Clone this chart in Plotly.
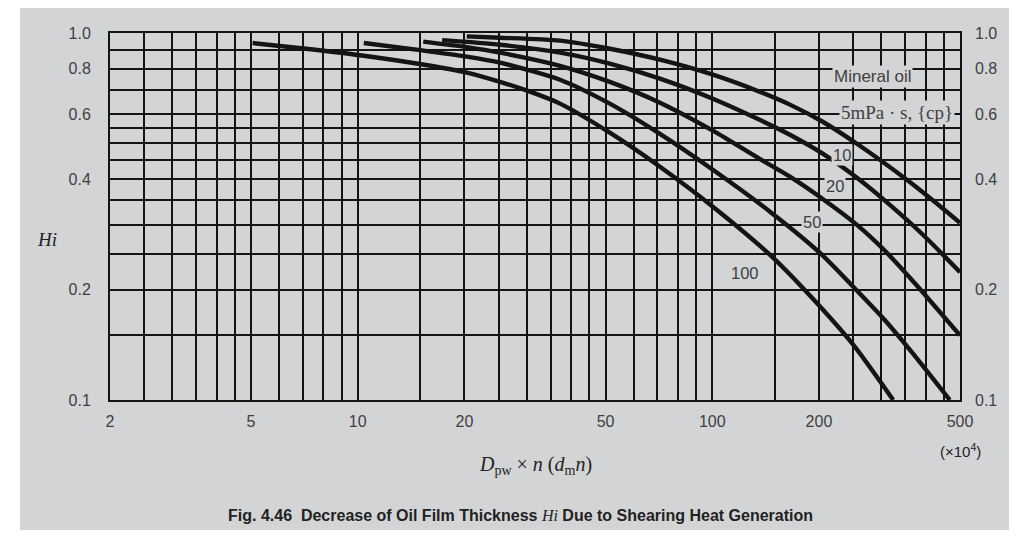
import math
import plotly.graph_objects as go

# ---- data ----
viscosities = ["5", "10", "20", "50", "100"]

dmn_5 = [20.3, 25.2, 37.2, 51.4, 71.2, 100.4, 136, 165.6, 205, 256, 354, 448, 500]
hi_5 = [0.979, 0.971, 0.953, 0.906, 0.846, 0.770, 0.692, 0.638, 0.573, 0.499, 0.398, 0.332, 0.304]

dmn_10 = [17.3, 25.2, 37.2, 51.4, 71.2, 100.4, 136, 165.6, 205, 256, 317, 393, 500]
hi_10 = [0.956, 0.929, 0.884, 0.825, 0.751, 0.662, 0.580, 0.528, 0.469, 0.403, 0.340, 0.282, 0.223]

dmn_20 = [15.3, 20.3, 25.2, 37.2, 51.4, 71.2, 100.4, 136, 165.6, 205, 256, 307, 368, 500]
hi_20 = [0.947, 0.915, 0.884, 0.814, 0.736, 0.646, 0.542, 0.454, 0.406, 0.353, 0.300, 0.255, 0.211, 0.150]

dmn_50 = [10.4, 15.0, 20.3, 25.2, 37.2, 51.4, 71.2, 100.4, 145.5, 201, 253, 307, 368, 468]
hi_50 = [0.939, 0.898, 0.862, 0.830, 0.746, 0.642, 0.531, 0.424, 0.326, 0.252, 0.201, 0.165, 0.134, 0.100]

dmn_100 = [5.05, 7.14, 10.15, 15.1, 20.3, 25.2, 30.6, 37.2, 51.4, 71.2, 102.9, 148.6, 197, 252, 324]
hi_100 = [0.939, 0.906, 0.870, 0.822, 0.780, 0.736, 0.692, 0.642, 0.535, 0.432, 0.330, 0.244, 0.184, 0.140, 0.100]

x_grid = [2, 2.5, 3, 3.5, 4, 4.5, 5, 6, 7, 8, 9, 10, 15, 20, 25, 30, 35, 40, 45, 50,
          60, 70, 80, 90, 100, 150, 200, 250, 300, 350, 400, 450, 500]
x_labels = {2: "2", 5: "5", 10: "10", 20: "20", 50: "50", 100: "100", 200: "200", 500: "500"}

y_grid = [0.1, 0.15, 0.2, 0.25, 0.3, 0.35, 0.4, 0.45, 0.5, 0.55, 0.6, 0.7, 0.8, 0.9, 1.0]
y_labels = {0.1: "0.1", 0.2: "0.2", 0.4: "0.4", 0.6: "0.6", 0.8: "0.8", 1.0: "1.0"}

# curve label positions (data units)
curve_labels = [
    ("Mineral oil", 284, 0.760, "Liberation Sans", 17),
    ("5mPa · s, {cp}", 332, 0.606, "Liberation Serif", 19),
    ("10", 232, 0.466, "Liberation Sans", 16.5),
    ("20", 222, 0.382, "Liberation Sans", 16.5),
    ("50", 190.8, 0.306, "Liberation Sans", 16.5),
    ("100", 123.7, 0.2215, "Liberation Sans", 16.5),
]

# short leader line under the "10" label, and small marker box by "20" (data units)
leader_10 = ([222, 246], [0.433, 0.413])
box_20 = ([200, 206.5], [0.347, 0.358])

BG = "#d3d4d6"
INK = "#141414"
TXT = "#404040"

fig = go.Figure()
series = [(dmn_5, hi_5), (dmn_10, hi_10), (dmn_20, hi_20), (dmn_50, hi_50), (dmn_100, hi_100)]
for name, (xs, ys) in zip(viscosities, series):
    fig.add_trace(go.Scatter(x=xs, y=ys, mode="lines", name=name,
                             line=dict(color=INK, width=4.4, shape="spline", smoothing=0.7),
                             showlegend=False, hoverinfo="skip"))

# invisible trace for right-hand axis
fig.add_trace(go.Scatter(x=[2, 500], y=[0.1, 1.0], yaxis="y2", mode="lines",
                         line=dict(width=0, color="rgba(0,0,0,0)"), showlegend=False, hoverinfo="skip"))

tickfont = dict(family="Liberation Sans", size=16, color=TXT)

fig.update_layout(
    width=1017, height=545,
    margin=dict(l=102, r=65, t=25, b=153),
    paper_bgcolor="white",
    plot_bgcolor=BG,
    xaxis=dict(type="log", range=[math.log10(2), math.log10(500)],
               tickvals=x_grid, ticktext=[x_labels.get(v, "") for v in x_grid],
               showgrid=True, gridcolor=INK, gridwidth=2,
               showline=True, linecolor=INK, linewidth=2, mirror=True,
               ticks="", tickfont=tickfont, ticklabelstandoff=6, zeroline=False),
    yaxis=dict(type="log", range=[-1, 0],
               tickvals=y_grid, ticktext=[y_labels.get(v, "") for v in y_grid],
               showgrid=True, gridcolor=INK, gridwidth=2,
               showline=True, linecolor=INK, linewidth=2, mirror=True,
               ticks="", tickfont=tickfont, ticklabelstandoff=14, zeroline=False),
    yaxis2=dict(type="log", range=[-1, 0], overlaying="y", side="right",
                tickvals=y_grid, ticktext=[y_labels.get(v, "") for v in y_grid],
                showgrid=False, ticks="", tickfont=tickfont, ticklabelstandoff=14,
                showline=False, zeroline=False),
)

# gray panel background
fig.add_shape(type="rect", xref="paper", yref="paper",
              x0=(20 - 110) / 850, x1=(1030 - 110) / 850,
              y0=(400 - 530) / 366.7, y1=(400 - 4) / 366.7,
              fillcolor=BG, line=dict(width=0), layer="below")

for text, xv, yv, fam, sz in curve_labels:
    fig.add_annotation(x=math.log10(xv), y=math.log10(yv), xref="x", yref="y",
                       xanchor="center", yanchor="middle",
                       text=text, showarrow=False,
                       font=dict(family=fam, size=sz, color=TXT),
                       bgcolor=BG, borderpad=1)

fig.add_shape(type="line", xref="x", yref="y",
              x0=math.log10(leader_10[0][0]), x1=math.log10(leader_10[0][1]),
              y0=math.log10(leader_10[1][0]), y1=math.log10(leader_10[1][1]),
              line=dict(color=INK, width=1.5))
fig.add_shape(type="rect", xref="x", yref="y",
              x0=math.log10(box_20[0][0]), x1=math.log10(box_20[0][1]),
              y0=math.log10(box_20[1][0]), y1=math.log10(box_20[1][1]),
              line=dict(color=INK, width=1.5), fillcolor=BG)

# axis titles and caption
fig.add_annotation(x=(47 - 110) / 850, y=(400 - 240) / 366.7, xref="paper", yref="paper",
                   xanchor="center", yanchor="middle",
                   text="<i>Hi</i>", showarrow=False,
                   font=dict(family="Liberation Serif", size=19, color="#222"))
fig.add_annotation(x=(535 - 110) / 850, y=(400 - 465) / 366.7, xref="paper", yref="paper",
                   xanchor="center", yanchor="middle",
                   text="<i>D</i><sub>pw</sub> × <i>n</i> (<i>d</i><sub>m</sub><i>n</i>)",
                   showarrow=False, font=dict(family="Liberation Serif", size=20, color="#222"))
fig.add_annotation(x=(960 - 110) / 850, y=(400 - 450) / 366.7, xref="paper", yref="paper",
                   xanchor="center", yanchor="middle",
                   text="(×10<sup>4</sup>)", showarrow=False,
                   font=dict(family="Liberation Sans", size=15, color="#222"))
fig.add_annotation(x=(520 - 110) / 850, y=(400 - 515) / 366.7, xref="paper", yref="paper",
                   xanchor="center", yanchor="middle",
                   text=("<b>Fig. 4.46  Decrease of Oil Film Thickness </b>"
                         "<span style=\"font-family:Liberation Serif\"><i>Hi</i></span>"
                         "<b> Due to Shearing Heat Generation</b>"),
                   showarrow=False,
                   font=dict(family="Liberation Sans", size=16, color="#222"))

fig.write_html("out.html")
